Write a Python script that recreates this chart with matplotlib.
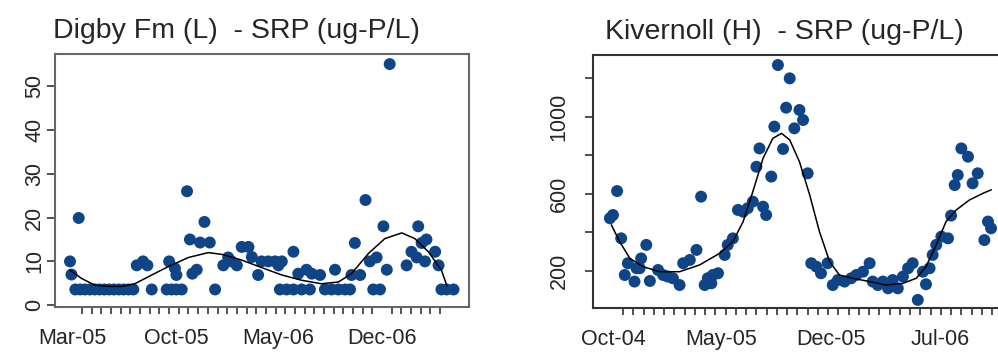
import numpy as np
import matplotlib
matplotlib.use("Agg")
import matplotlib.pyplot as plt

# ── Data (x = days since first labelled month) ────────────────────────────────
# Digby Fm (L): day 0 = 1 Mar 2005
digby_days = [
    -5, -2, 13, 6, 16, 26, 36, 46, 56, 66, 76, 86, 96, 106, 116, 126,
    133, 146, 155, 164, 195, 205, 215, 226, 200, 212, 215,
    237, 243, 248, 257, 264, 273, 284, 295,
    312, 322, 329, 340, 350, 364, 371, 384, 391, 405, 419, 433, 426,
    429, 443, 457, 474, 491, 457, 467, 484, 495, 512,
    522, 536, 550, 564, 574, 543, 577, 584, 595, 606, 615, 629,
    622, 636, 643, 650, 656, 691, 701, 712, 715, 722, 732, 729, 750, 757,
    763, 774, 788,
]
digby_srp = [
    10.0, 7.0, 19.9, 3.6, 3.6, 3.6, 3.6, 3.6, 3.6, 3.6, 3.6, 3.6, 3.6, 3.6, 3.6, 3.6,
    9.1, 10.0, 9.1, 3.6, 3.6, 3.6, 3.6, 3.6, 10.0, 8.4, 6.9,
    26.0, 15.0, 7.2, 8.1, 14.3, 19.0, 14.3, 3.6,
    9.1, 10.9, 10.0, 9.1, 13.3, 13.3, 11.0, 6.9, 10.0, 10.0, 10.0, 10.0, 9.1,
    3.6, 3.6, 3.6, 3.6, 3.6, 12.2, 7.2, 8.1, 7.2, 6.9,
    3.6, 3.6, 3.6, 3.6, 3.6, 8.1, 6.9, 14.2, 6.9, 24.0, 10.0, 10.9,
    3.6, 3.6, 18.0, 8.1, 55.0, 9.1, 12.2, 10.9, 18.0, 14.2, 15.0, 10.0, 12.2, 9.1,
    3.6, 3.6, 3.6,
]
digby_fit_days = [-5, 19, 46, 74, 102, 129, 164, 198, 240, 281, 309, 350, 391,
                  433, 474, 515, 550, 577, 612, 646, 681, 708, 736, 763, 774]
digby_fit = [8.0, 6.1, 4.6, 4.3, 4.3, 4.9, 6.9, 8.8, 10.9, 12.0, 11.6, 10.3, 8.6,
             6.9, 5.7, 4.9, 5.3, 7.2, 11.8, 15.2, 16.5, 15.2, 12.2, 8.0, 4.5]
digby_lab_days = [0, 214, 426, 640]
digby_labels = ["Mar-05", "Oct-05", "May-06", "Dec-06"]

# Kivernoll (H): day 0 = 1 Oct 2004
kiv_days = [
    -6, 0, 8, 16, 23, 29, 42, 46, 55, 52, 65, 72, 88, 98, 107, 117, 130,
    172, 137, 150, 163, 179, 185, 195, 205, 192, 218, 224, 234, 244, 254, 263,
    273, 280, 286, 293, 299, 309, 315, 322, 332, 338, 345, 354, 364, 371, 380,
    387, 397, 406, 419, 429, 439, 452, 465, 475, 488, 501, 507, 517, 527, 537,
    546, 556, 566, 576, 585, 595, 605, 611, 618, 624, 631, 641, 654, 660, 667,
    673, 680, 693, 702, 712, 725, 732, 738,
]
kiv_srp = [
    473, 490, 614, 369, 179, 240, 145, 214, 265, 214, 335, 148, 205, 179, 171, 162, 127,
    585, 240, 257, 309, 127, 162, 179, 188, 136, 283, 335, 369, 516, 507, 525,
    559, 740, 835, 533, 490, 689, 948, 1267, 832, 1046, 1198, 939, 1034, 982, 706,
    240, 222, 188, 240, 127, 153, 145, 162, 179, 196, 240, 145, 127, 145, 110,
    153, 110, 171, 214, 240, 50, 196, 131, 214, 283, 335, 378, 369, 487, 645,
    697, 835, 792, 654, 706, 360, 456, 421,
]
kiv_fit_days = [-3, 13, 33, 59, 91, 130, 169, 208, 234, 254, 273, 293, 312, 329,
                345, 364, 384, 403, 423, 442, 468, 501, 533, 566, 592, 611, 631,
                650, 670, 696, 722, 738]
kiv_fit = [438, 352, 265, 222, 196, 196, 231, 291, 352, 455, 611, 784, 887, 913,
           879, 766, 594, 404, 248, 179, 162, 145, 127, 136, 162, 222, 335,
           455, 516, 568, 602, 620]
kiv_lab_days = [0, 212, 426, 638]
kiv_labels = ["Oct-04", "May-05", "Dec-05", "Jul-06"]
kiv_yticks = [200, 400, 600, 800, 1000, 1200]
kiv_ylabels = ["200", "", "600", "", "1000", ""]

# ── Style ─────────────────────────────────────────────────────────────────────
plt.rcParams["font.family"] = ["Liberation Sans", "DejaVu Sans"]
PT_COL = "#0f4587"
TXT = "#262626"

fig = plt.figure(figsize=(9.98, 3.56), dpi=100, facecolor="white")
W, H = 998, 356


def make_ax(left, top, right, bottom):
    return fig.add_axes([left / W, 1 - bottom / H, (right - left) / W, (bottom - top) / H])


def style(ax, spine_col, xticks_end, lab_days, labels, ypad):
    for s in ax.spines.values():
        s.set_color(spine_col)
        s.set_linewidth(1.5)
    ax.set_xticks(np.arange(0, xticks_end + 1, 20), minor=True)
    ax.set_xticks(lab_days)
    ax.set_xticklabels(labels)
    ax.tick_params(axis="x", which="major", length=0, pad=15, labelsize=15.5, labelcolor=TXT)
    ax.tick_params(axis="x", which="minor", length=5, width=1.2, color="#333333")
    ax.tick_params(axis="y", length=6, width=1.2, color="#333333", pad=ypad,
                   labelsize=15.5, labelcolor=TXT)
    for t in ax.get_yticklabels():
        t.set_rotation(90)
        t.set_va("center")


# Left panel
ax1 = make_ax(55, 54, 469, 307)
ax1.scatter(digby_days, digby_srp, s=74, color=PT_COL, edgecolors="none", zorder=3)
ax1.plot(digby_fit_days, digby_fit, color="black", lw=1.1, zorder=4)
ax1.set_xlim(-36, 820)
ax1.set_ylim(-0.4, 57.3)
ax1.set_yticks([0, 10, 20, 30, 40, 50])
style(ax1, "#666666", 760, digby_lab_days, digby_labels, 1.0)

# Right panel (runs off the right edge, as in the source)
ax2 = make_ax(593, 55, 1010, 308)
ax2.scatter(kiv_days, kiv_srp, s=74, color=PT_COL, edgecolors="none", zorder=3)
ax2.plot(kiv_fit_days, kiv_fit, color="black", lw=1.1, zorder=4)
ax2.set_xlim(-39, 775)
ax2.set_ylim(8, 1319)
ax2.set_yticks(kiv_yticks)
ax2.set_yticklabels(kiv_ylabels)
style(ax2, "#333333", 740, kiv_lab_days, kiv_labels, 11)

fig.text(53 / W, 1 - 38 / H, "Digby Fm (L)  - SRP (ug-P/L)", fontsize=20.5,
         color=TXT, ha="left", va="baseline")
fig.text(605 / W, 1 - 39 / H, "Kivernoll (H)  - SRP (ug-P/L)", fontsize=20.5,
         color=TXT, ha="left", va="baseline")

fig.savefig("out.png", dpi=100, facecolor="white")
